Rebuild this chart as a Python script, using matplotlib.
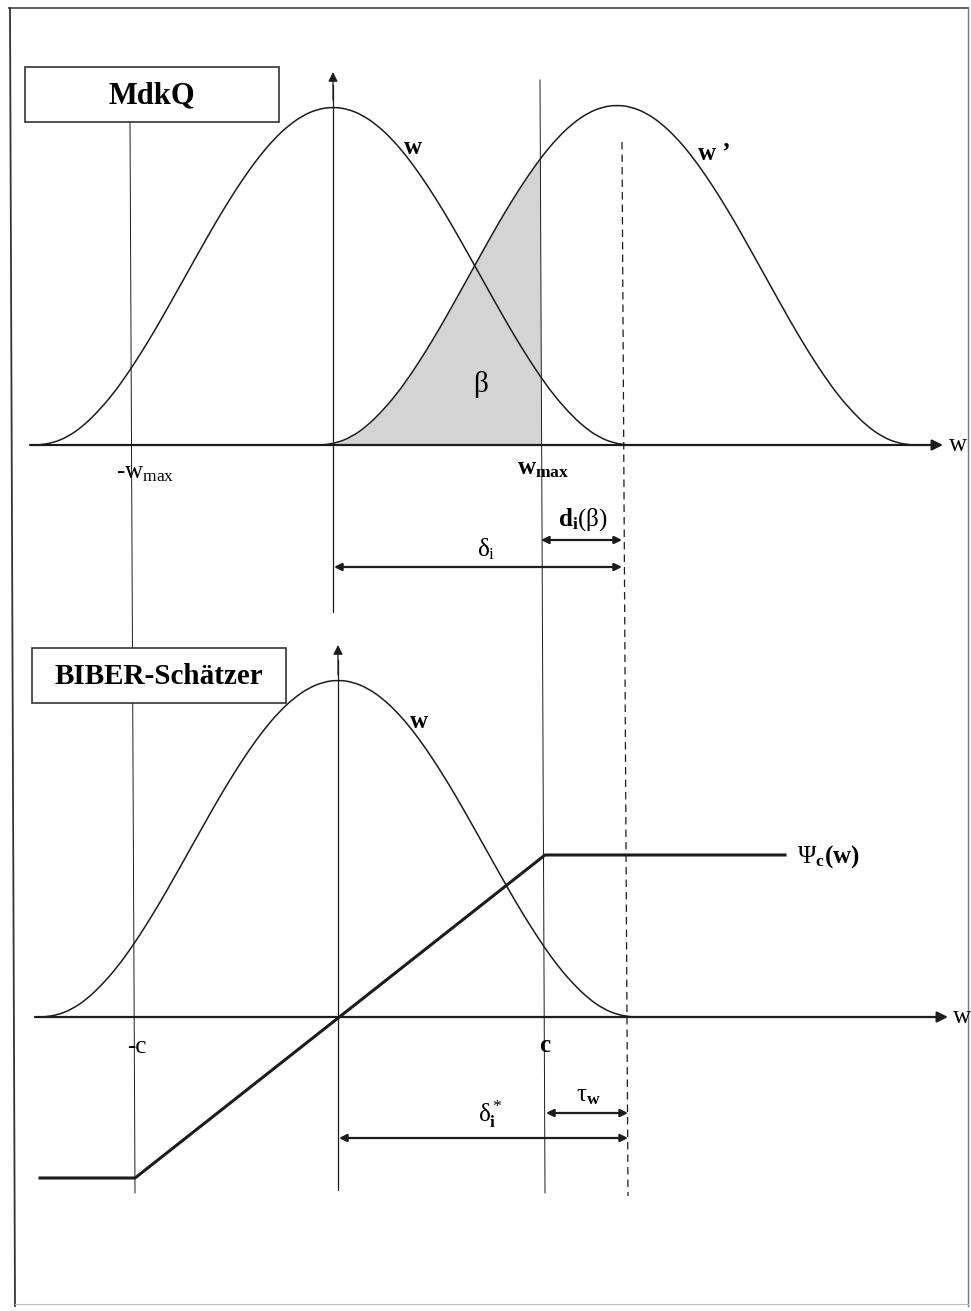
import numpy as np
import matplotlib.pyplot as plt
from matplotlib.patches import Rectangle, PathPatch
from matplotlib.path import Path

plt.rcParams['font.family'] = ['Liberation Serif', 'DejaVu Serif']
plt.rcParams['mathtext.fontset'] = 'custom'
plt.rcParams['mathtext.rm'] = 'Liberation Serif'
plt.rcParams['mathtext.it'] = 'Liberation Serif:italic'
plt.rcParams['mathtext.bf'] = 'Liberation Serif:bold'

INK = '#1c1c1c'

# density profile: relative height vs. relative distance from the peak
bell_t = [0.00, 0.05, 0.10, 0.15, 0.20, 0.25, 0.30, 0.35, 0.40, 0.45, 0.50,
          0.55, 0.60, 0.65, 0.70, 0.75, 0.80, 0.85, 0.90, 0.95, 1.00]
bell_h = [1.000, 0.994, 0.976, 0.946, 0.905, 0.854, 0.794, 0.727, 0.655,
          0.578, 0.500, 0.422, 0.345, 0.273, 0.206, 0.146, 0.096, 0.054,
          0.024, 0.006, 0.000]
half_width = 295

# upper sketch (MdkQ)
top_base = 445
top_centers = [333, 617]      # w and shifted w'
top_peaks = [107, 105]
w_max_x = 540

# lower sketch (BIBER)
bot_base = 1017
bot_center = 338
bot_peak = 680
psi_x = [40, 135, 545, 785]
psi_y = [1178, 1178, 855, 855]


def bell(center, base, peak):
    t = np.array(bell_t)
    h = np.array(bell_h)
    xs = center + half_width * np.concatenate([-t[::-1], t[1:]])
    ys = base - (base - peak) * np.concatenate([h[::-1], h[1:]])
    return xs, ys


def smooth_path(xs, ys):
    # quadratic Bezier pieces: sample points as controls, midpoints on the curve
    pts = np.column_stack([xs, ys])
    mids = (pts[:-1] + pts[1:]) / 2
    verts = [pts[0], mids[0]]
    codes = [Path.MOVETO, Path.LINETO]
    for i in range(1, len(pts) - 1):
        verts += [pts[i], mids[i]]
        codes += [Path.CURVE3, Path.CURVE3]
    verts.append(pts[-1])
    codes.append(Path.LINETO)
    return Path(verts, codes)


def draw_bell(ax, center, base, peak):
    xs, ys = bell(center, base, peak)
    ax.add_patch(PathPatch(smooth_path(xs, ys), facecolor='none',
                           edgecolor=INK, lw=1.1, zorder=2))


def arrow(ax, x0, y0, x1, y1, style='-|>', lw=1.4, ms=13):
    ax.annotate('', xy=(x1, y1), xytext=(x0, y0),
                arrowprops=dict(arrowstyle=style, color=INK, lw=lw,
                                mutation_scale=ms, shrinkA=0, shrinkB=0))


fig = plt.figure(figsize=(9.71, 13.11), dpi=100)
ax = fig.add_axes([0, 0, 1, 1])
ax.set_xlim(0, 971)
ax.set_ylim(1311, 0)
ax.axis('off')

# page frame
ax.plot([9, 968], [8, 8], color='#555555', lw=1.3)
ax.plot([10, 15], [8, 1306], color='#333333', lw=1.3)
ax.plot([968, 968], [8, 1306], color='#777777', lw=1.0)
ax.plot([15, 968], [1304, 1304], color='#bbbbbb', lw=0.8)

# vertical guide lines through both sketches
ax.plot([130, 135], [122, 1193], color=INK, lw=0.7)
ax.plot([540, 545], [80, 1193], color=INK, lw=0.7)
ax.plot([622, 628], [142, 1196], color=INK, lw=0.9, ls=(0, (6, 4)))

# ---- upper sketch ----
xs, ys = bell(top_centers[1], top_base, top_peaks[1])
shade = ax.fill_between(xs, ys, top_base, color='#d4d4d4', lw=0, zorder=1)
clip = Rectangle((0, 0), w_max_x, 1311, transform=ax.transData)
shade.set_clip_path(clip)
for c, p in zip(top_centers, top_peaks):
    draw_bell(ax, c, top_base, p)

arrow(ax, 30, top_base, 943, top_base, lw=1.6, ms=16)
ax.plot([333, 333], [612, 85], color=INK, lw=0.9)
arrow(ax, 333, 100, 333, 72, lw=0.9, ms=14)

ax.add_patch(Rectangle((25, 67), 254, 55, facecolor='white',
                       edgecolor='#333333', lw=1.2, zorder=3))
ax.text(152, 96, 'MdkQ', fontsize=22, fontweight='bold', ha='center',
        va='center', zorder=4)

ax.text(413, 148, 'w', fontsize=18, fontweight='bold', ha='center', va='center')
ax.text(714, 153, 'w ’', fontsize=18, fontweight='bold', ha='center', va='center')
ax.text(481, 384, 'β', fontsize=21, ha='center', va='center')
ax.text(958, 445, 'w', fontsize=18, ha='center', va='center')
ax.text(145, 473, r'-w$_\mathrm{max}$', fontsize=18, ha='center', va='center')
ax.text(543, 469, r'$\mathbf{w}_\mathbf{max}$', fontsize=18, ha='center',
        va='center')
ax.text(583, 520, r'$\mathbf{d}_\mathbf{i}$(β)', fontsize=18, ha='center',
        va='center')
ax.text(486, 549, r'δ$_\mathrm{i}$', fontsize=18, ha='center', va='center')

arrow(ax, 541, 540, 622, 540, style='<|-|>', lw=1.6, ms=11)
arrow(ax, 334, 567, 622, 567, style='<|-|>', lw=1.6, ms=11)

# ---- lower sketch ----
draw_bell(ax, bot_center, bot_base, bot_peak)
ax.plot(psi_x, psi_y, color=INK, lw=2.2, zorder=2)

arrow(ax, 35, bot_base, 948, bot_base, lw=1.6, ms=16)
ax.plot([338, 338], [1190, 660], color=INK, lw=0.9)
arrow(ax, 338, 675, 338, 645, lw=0.9, ms=14)

ax.add_patch(Rectangle((32, 648), 254, 55, facecolor='white',
                       edgecolor='#333333', lw=1.2, zorder=3))
ax.text(159, 677, 'BIBER-Schätzer', fontsize=21, fontweight='bold',
        ha='center', va='center', zorder=4)

ax.text(419, 722, 'w', fontsize=18, fontweight='bold', ha='center', va='center')
ax.text(797, 857, r'Ψ$_\mathbf{c}$$\mathbf{(w)}$', fontsize=18, ha='left',
        va='center')
ax.text(962, 1017, 'w', fontsize=18, ha='center', va='center')
ax.text(137, 1047, '-c', fontsize=18, ha='center', va='center')
ax.text(545, 1045, 'c', fontsize=18, fontweight='bold', ha='center',
        va='center')
ax.text(588, 1096, r'τ$_\mathbf{w}$', fontsize=18, ha='center', va='center')
ax.text(490, 1114, r'δ$^*_\mathbf{i}$', fontsize=18, ha='center', va='center')

arrow(ax, 546, 1113, 628, 1113, style='<|-|>', lw=1.6, ms=11)
arrow(ax, 339, 1138, 628, 1138, style='<|-|>', lw=1.6, ms=11)

fig.savefig('out.png', dpi=100, facecolor='white')
